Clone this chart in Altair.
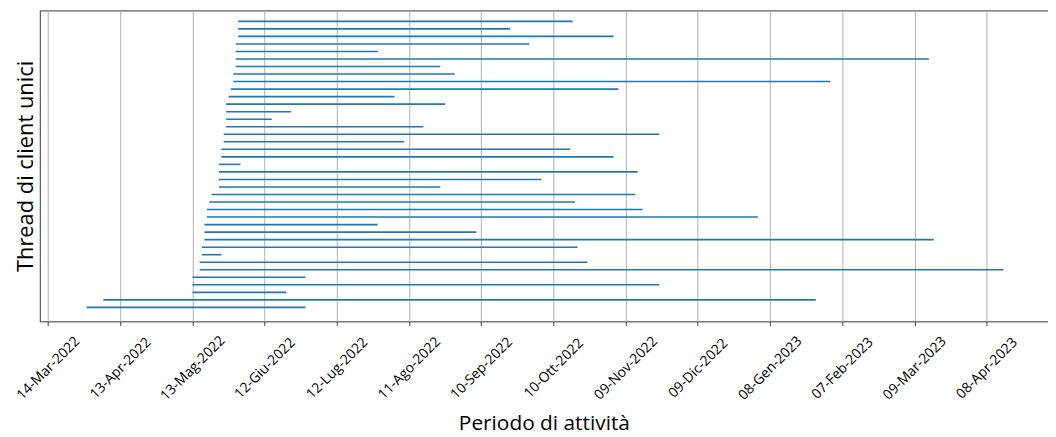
import altair as alt
import pandas as pd

# Thread periods, listed from the top row to the bottom row
starts = [
    "2022-06-01", "2022-06-01", "2022-06-01", "2022-05-31", "2022-05-31",
    "2022-05-31", "2022-05-31", "2022-05-30", "2022-05-30", "2022-05-29",
    "2022-05-28", "2022-05-27", "2022-05-27", "2022-05-27", "2022-05-27",
    "2022-05-26", "2022-05-26", "2022-05-25", "2022-05-25", "2022-05-24",
    "2022-05-24", "2022-05-24", "2022-05-24", "2022-05-21", "2022-05-20",
    "2022-05-19", "2022-05-19", "2022-05-18", "2022-05-18", "2022-05-18",
    "2022-05-17", "2022-05-17", "2022-05-16", "2022-05-16", "2022-05-13",
    "2022-05-13", "2022-05-13", "2022-04-06", "2022-03-30",
]
ends = [
    "2022-10-18", "2022-09-22", "2022-11-04", "2022-09-30", "2022-07-29",
    "2023-03-15", "2022-08-24", "2022-08-30", "2023-02-02", "2022-11-06",
    "2022-08-05", "2022-08-26", "2022-06-23", "2022-06-15", "2022-08-17",
    "2022-11-23", "2022-08-09", "2022-10-17", "2022-11-04", "2022-06-02",
    "2022-11-14", "2022-10-05", "2022-08-24", "2022-11-13", "2022-10-19",
    "2022-11-16", "2023-01-03", "2022-07-29", "2022-09-08", "2023-03-17",
    "2022-10-20", "2022-05-25", "2022-10-24", "2023-04-15", "2022-06-29",
    "2022-11-23", "2022-06-21", "2023-01-27", "2022-06-29",
]

tick_dates = [
    "2022-03-14", "2022-04-13", "2022-05-13", "2022-06-12", "2022-07-12",
    "2022-08-11", "2022-09-10", "2022-10-10", "2022-11-09", "2022-12-09",
    "2023-01-08", "2023-02-07", "2023-03-09", "2023-04-08",
]
tick_labels = [
    "14-Mar-2022", "13-Apr-2022", "13-Mag-2022", "12-Giu-2022", "12-Lug-2022",
    "11-Ago-2022", "10-Sep-2022", "10-Ott-2022", "09-Nov-2022", "09-Dic-2022",
    "08-Gen-2023", "07-Feb-2023", "09-Mar-2023", "08-Apr-2023",
]

n = len(starts)
df = pd.DataFrame({
    "start": starts,
    "end": ends,
    "thread": [n - 1 - i for i in range(n)],
})

tick_ms = [int(pd.Timestamp(d, tz="UTC").value // 10**6) for d in tick_dates]
label_expr = (
    "[" + ",".join("'" + s + "'" for s in tick_labels) + "]"
    + "[indexof([" + ",".join(str(v) for v in tick_ms) + "], toNumber(datum.value))]"
)

FONT = "Open Sans"

chart = alt.Chart(df).mark_rule(color="#1f77b4", strokeWidth=1.6).encode(
    x=alt.X(
        "start:T",
        scale=alt.Scale(
            type="utc",
            domain=[
                alt.DateTime(year=2022, month=3, date=10, hours=14, utc=True),
                alt.DateTime(year=2023, month=5, date=3, hours=12, utc=True),
            ],
        ),
        axis=alt.Axis(
            title="Periodo di attività",
            values=tick_ms,
            labelExpr=label_expr,
            labelAngle=-45,
            labelAlign="center",
            labelBaseline="middle",
            labelPadding=43,
            labelOverlap=False,
            labelFontSize=14,
            labelColor="#000000",
            labelFont=FONT,
            tickSize=4,
            tickColor="#333333",
            domain=False,
            grid=True,
            gridColor="#b0b0b0",
            gridWidth=1,
            titleFont=FONT,
            titleFontSize=21,
            titleFontWeight="normal",
            titleColor="#000000",
            titleY=109,
            titleBaseline="alphabetic",
        ),
    ),
    x2="end:T",
    y=alt.Y(
        "thread:Q",
        scale=alt.Scale(domain=[-1.85, 39.45], nice=False, zero=False),
        axis=alt.Axis(
            title="Thread di client unici",
            labels=False,
            ticks=False,
            domain=False,
            grid=False,
            titleFont=FONT,
            titleFontSize=22,
            titleFontWeight="normal",
            titleColor="#000000",
            titlePadding=7,
            titleBaseline="alphabetic",
        ),
    ),
).properties(
    width=1015,
    height=313,
    autosize=alt.AutoSizeParams(type="none"),
    padding={"left": 32, "top": 1, "right": 0, "bottom": 115},
).configure_view(
    stroke="#333333",
    strokeWidth=1,
)

chart.save("out.html", embed_options={"renderer": "svg", "actions": False})
